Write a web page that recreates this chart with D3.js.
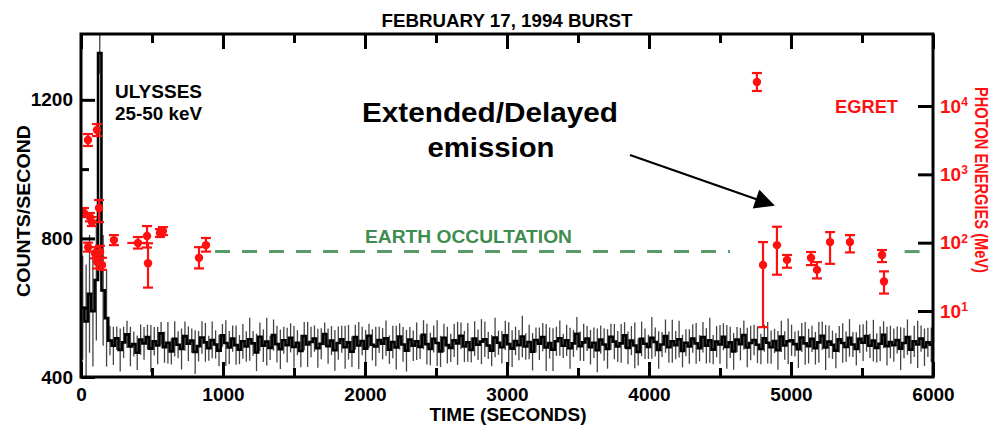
<!DOCTYPE html>
<html><head><meta charset="utf-8">
<script src="https://cdn.jsdelivr.net/npm/d3@7"></script>
<style>body{margin:0;background:#fff}svg{display:block}text{font-family:"Liberation Sans",Arial,sans-serif;font-weight:bold}</style>
</head><body><svg id="c" width="997" height="427"></svg>
<script>
// ---- Ulysses 25-50 keV counts/second (24 s bins, starting at t=0) ----
const ulyBinWidth = 24;
const ulyCounts = [
600,560,640,590,680,1335,650,570,
505,490,512,478,500,523,488,495,470,508,
497,515,482,503,491,526,486,499,474,510,
493,481,518,496,505,472,489,514,500,483,
507,494,476,520,498,485,511,492,479,503,
488,509,497,471,516,490,502,484,521,495,
480,506,492,513,487,499,475,518,494,501,
511,483,496,524,489,505,477,498,509,486,
500,473,515,491,504,482,519,493,488,507,
496,512,479,501,485,517,494,476,508,490,
503,487,522,495,481,510,498,474,513,492,
484,506,497,519,488,500,478,511,493,502,
509,491,476,514,499,486,520,495,482,504,
492,517,488,501,473,507,496,515,485,498,
479,503,512,490,506,483,497,525,489,500,
511,486,499,477,508,494,481,516,502,488,
497,520,484,505,491,472,510,496,487,513,
501,478,494,518,486,503,492,509,475,499,
488,511,497,483,515,490,506,479,502,494,
516,487,500,474,508,495,521,485,498,507,
493,481,512,499,486,504,477,517,491,503,
506,495,480,514,497,489,510,483,500,519,
485,502,493,476,509,498,487,513,494,481,
510,499,518,490,505,484,496,522,489,501,
492,507,482,498,515,479,503,494,511,486,
500,493];
const ulyErrors = [
150,165,170,160,175,60,160,140,
42,55,34,62,45,39,57,36,50,44,
47,36,68,41,54,33,45,60,38,51,
39,59,42,50,35,63,44,47,56,36,
53,41,45,33,66,48,38,57,42,50,
44,62,36,54,41,47,69,35,45,53,
57,39,50,42,60,36,47,41,65,44,
38,56,45,33,51,42,59,48,39,62,
50,44,36,68,41,54,35,45,57,38,
45,51,41,47,63,38,50,60,36,44,
54,35,42,59,47,39,66,45,41,53,
41,48,62,38,45,56,36,50,44,65,
51,39,45,57,35,47,42,63,53,41,
44,60,38,50,54,36,47,41,68,45,
62,42,51,35,45,59,39,48,42,54,
36,50,44,63,41,47,57,38,51,45,
56,38,47,42,66,39,50,44,35,60,
42,54,36,48,45,62,41,53,47,39,
50,41,59,38,44,51,65,42,45,56,
39,63,45,53,36,47,42,57,50,44,
53,44,39,60,48,35,56,45,41,66,
45,36,54,42,62,50,38,47,59,41,
65,47,41,51,38,57,44,54,36,48,
41,53,45,35,60,42,50,39,56,47,
48,39,62,44,51,41,45,68,38,54,
42,50];

// ---- EGRET photon energies (MeV) ----
const egretTime   = [49,113,21,63,77,127,50,99,113,134,148,232,401,465,472,556,577,831,880,4760,4803,4901,4972,5141,5183,5275,5415,5641,5655];
const egretEnergy = [3180,4455,272,237,200,321,86,70,52,73,47,109,99,125,50,138,148,60,92,22450,47,92,56,60,40,102,102,66,27];
const egretLow    = [2600,3640,237,205,175,200,74,59,42,60,40,92,82,85,22,121,129,42,74,16590,5.8,34,43,47,30,49,72,52,18];
const egretHigh   = [3890,5450,321,272,237,421,100,86,65,90,60,129,121,175,98,158,169,86,117,30400,102,171,66,73,52,143,129,78,38];
const egretDt     = [0,0,0,0,0,0,0,0,0,0,0,0,75,0,0,0,0,0,0,0,0,0,0,0,0,0,0,0,0];

// ---- Earth occultation intervals (s) and plotted level (counts/s units) ----
const occultation = [[944,4570],[5800,5925]];
const occultationLevel = 762;

// ---- ticks ----
const xTicksMajor = [0,1000,2000,3000,4000,5000,6000];
const xTicksMinor = [500,1500,2500,3500,4500,5500];
const leftTicksMajor = [400,800,1200];
const leftTicksMinor = [600,1000];
const rightTicks = [10,100,1000,10000];

const L=81,R=933,T=34,B=377;
const x = d3.scaleLinear([0,6000],[L,R]);
const yL = d3.scaleLinear([400,1390],[B,T]);
const yR = d3.scaleLog([Math.pow(10,0.034),Math.pow(10,5.054)],[B,T]);
const RED="#ff1010", GREEN="#3f8c50";

const svg = d3.select("#c");
svg.append("rect").attr("width",997).attr("height",427).attr("fill","#fff");

svg.append("clipPath").attr("id","pc").append("rect").attr("x",L).attr("y",T).attr("width",R-L).attr("height",B-T);
const plot = svg.append("g").attr("clip-path","url(#pc)");

// Ulysses error bars
const uly = ulyCounts.map((v,i)=>({t:i*ulyBinWidth, v, e:ulyErrors[i]}));
plot.append("g").selectAll("line").data(uly).join("line")
  .attr("x1",d=>x(d.t+ulyBinWidth/2)).attr("x2",d=>x(d.t+ulyBinWidth/2))
  .attr("y1",d=>yL(d.v-d.e)).attr("y2",d=>yL(d.v+d.e))
  .attr("stroke","#444").attr("stroke-width",1.3);
// Ulysses step line
const stepData = uly.concat([{t:6000, v:uly[uly.length-1].v}]);
plot.append("path").datum(stepData)
  .attr("d", d3.line().x(d=>x(d.t)).y(d=>yL(d.v)).curve(d3.curveStepAfter))
  .attr("fill","none").attr("stroke","#000").attr("stroke-width",2.6);

// Earth occultation dashed line
plot.append("g").selectAll("line").data(occultation).join("line")
  .attr("x1",d=>x(d[0])).attr("x2",d=>x(d[1]))
  .attr("y1",yL(occultationLevel)).attr("y2",yL(occultationLevel))
  .attr("stroke","#5a9a68").attr("stroke-width",3).attr("stroke-dasharray","15,12");

// EGRET points
const eg = egretTime.map((t,i)=>({t, E:egretEnergy[i], lo:egretLow[i], hi:egretHigh[i], dt:egretDt[i]}));
const gE = plot.append("g");
const cap=5;
eg.forEach(d=>{
  const g = gE.append("g").attr("stroke",RED).attr("stroke-width",2.2).attr("fill",RED);
  const cx=x(d.t);
  g.append("line").attr("x1",cx).attr("x2",cx).attr("y1",yR(d.lo)).attr("y2",yR(d.hi));
  g.append("line").attr("x1",cx-cap).attr("x2",cx+cap).attr("y1",yR(d.lo)).attr("y2",yR(d.lo));
  g.append("line").attr("x1",cx-cap).attr("x2",cx+cap).attr("y1",yR(d.hi)).attr("y2",yR(d.hi));
  if(d.dt>0) g.append("line").attr("x1",x(d.t-d.dt)).attr("x2",x(d.t+d.dt)).attr("y1",yR(d.E)).attr("y2",yR(d.E));
  g.append("circle").attr("cx",cx).attr("cy",yR(d.E)).attr("r",4.2).attr("stroke","none");
});

// Axes
function styleAxis(g){ g.select(".domain").remove(); g.selectAll("line").attr("stroke","#000").attr("stroke-width",3);
  g.selectAll("text").attr("fill","#000").style("font-size","19px").style("font-family",'"Liberation Sans",Arial,sans-serif').style("font-weight","bold"); }
svg.append("g").attr("transform",`translate(0,${B})`).call(d3.axisBottom(x).tickValues(xTicksMajor).tickSize(-15).tickPadding(11).tickFormat(d3.format("d"))).call(styleAxis);
svg.append("g").attr("transform",`translate(0,${B})`).call(d3.axisBottom(x).tickValues(xTicksMinor).tickSize(-9).tickFormat("")).call(styleAxis);
svg.append("g").attr("transform",`translate(0,${T})`).call(d3.axisTop(x).tickValues(xTicksMajor).tickSize(-15).tickFormat("")).call(styleAxis);
svg.append("g").attr("transform",`translate(0,${T})`).call(d3.axisTop(x).tickValues(xTicksMinor).tickSize(-9).tickFormat("")).call(styleAxis);
svg.append("g").attr("transform",`translate(${L},0)`).call(d3.axisLeft(yL).tickValues(leftTicksMajor).tickSize(-14).tickPadding(8).tickFormat(d3.format("d"))).call(styleAxis);
svg.append("g").attr("transform",`translate(${L},0)`).call(d3.axisLeft(yL).tickValues(leftTicksMinor).tickSize(-8).tickFormat("")).call(styleAxis);
const ra = svg.append("g").attr("transform",`translate(${R},0)`).call(d3.axisRight(yR).tickValues(rightTicks).tickSize(-15).tickPadding(7)).call(styleAxis);
ra.selectAll("text").each(function(d){
  const t=d3.select(this); t.text("").attr("fill",RED);
  t.append("tspan").text("10");
  t.append("tspan").attr("dy","-0.55em").style("font-size","12px").text(Math.round(Math.log10(d)));
});

// frame
svg.append("rect").attr("x",L).attr("y",T).attr("width",R-L).attr("height",B-T).attr("fill","none").attr("stroke","#000").attr("stroke-width",3);

// texts
const txt=(s,xx,yy,size,opts={})=>{const t=svg.append("text").attr("x",xx).attr("y",yy).style("font-size",size+"px").attr("fill",opts.fill||"#000").attr("text-anchor",opts.anchor||"start").text(s);
  if(opts.len) t.attr("textLength",opts.len).attr("lengthAdjust","spacingAndGlyphs"); if(opts.rot) t.attr("transform",`rotate(${opts.rot},${xx},${yy})`); return t;};
txt("FEBRUARY 17, 1994 BURST",507,27,18.5,{anchor:"middle",len:251});
txt("TIME (SECONDS)",508,421,19,{anchor:"middle",len:157});
txt("COUNTS/SECOND",30,211,19,{anchor:"middle",len:172,rot:-90});
txt("PHOTON ENERGIES (MeV)",975,180,19,{anchor:"middle",len:186,rot:90,fill:RED});
txt("ULYSSES",115,98,18,{len:87});
txt("25-50 keV",115,120,18,{len:87});
txt("EGRET",835,113,18,{len:63,fill:RED});
txt("EARTH OCCULTATION",365,243,18,{len:207,fill:GREEN});
txt("Extended/Delayed",490,122,28,{anchor:"middle",len:256});
txt("emission",491,157,28,{anchor:"middle",len:127});

// arrow
svg.append("defs").append("marker").attr("id","ah").attr("viewBox","0 0 10 10").attr("refX",9).attr("refY",5)
  .attr("markerWidth",26).attr("markerHeight",20).attr("markerUnits","userSpaceOnUse").attr("orient","auto")
  .append("path").attr("d","M0,0 L10,5 L0,10 Z").attr("fill","#000");
svg.append("line").attr("x1",630).attr("y1",155).attr("x2",773).attr("y2",205).attr("stroke","#000").attr("stroke-width",2.2).attr("marker-end","url(#ah)");
</script></body></html>
